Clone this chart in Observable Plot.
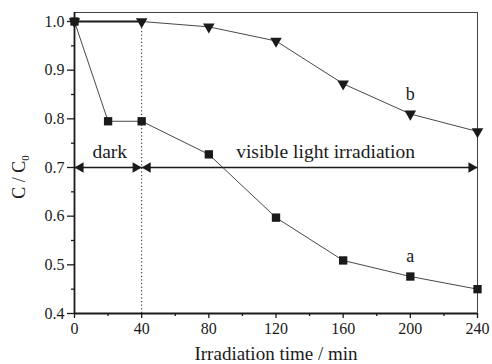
<!DOCTYPE html>
<html><head><meta charset="utf-8">
<script src="https://cdn.jsdelivr.net/npm/d3@7"></script>
<script src="https://cdn.jsdelivr.net/npm/@observablehq/plot@0.6"></script>
<style>body{margin:0;background:#fff;} svg{display:block;}</style>
</head><body><div id="chart"></div>
<script>
const time = [0, 20, 40, 80, 120, 160, 200, 240];
const seriesA = [1.0, 0.795, 0.795, 0.727, 0.597, 0.509, 0.476, 0.45];
const timeB = [0, 40, 80, 120, 160, 200, 240];
const seriesB = [1.0, 1.0, 0.989, 0.960, 0.872, 0.810, 0.774];
const xMajor = [0, 40, 80, 120, 160, 200, 240];
const xMinor = [20, 60, 100, 140, 180, 220];
const yMajor = [0.4, 0.5, 0.6, 0.7, 0.8, 0.9, 1.0];
const yMinor = [0.45, 0.55, 0.65, 0.75, 0.85, 0.95];
const periods = [{x1: 0, x2: 40, label: "dark", lx: 21}, {x1: 40, x2: 240, label: "visible light irradiation", lx: 149.5}];
const arrowLevel = 0.7;
const periodLabelY = 0.733;
const darkEnd = 40;
const seriesLabels = [{x: 200, y: 0.517, t: "a"}, {x: 200, y: 0.850, t: "b"}];

const A = time.map((t, i) => ({t, v: seriesA[i]}));
const B = timeB.map((t, i) => ({t, v: seriesB[i]}));
const heads = periods.flatMap(p => [{x: p.x1, dir: -1}, {x: p.x2, dir: 1}]);
const ink = "#1a1a1a";
const serif = "'Liberation Serif', 'Times New Roman', serif";

const plot = Plot.plot({
  width: 492, height: 364,
  marginLeft: 74, marginRight: 15, marginTop: 12, marginBottom: 51,
  style: {fontFamily: serif, fontSize: "16px", color: ink, background: "#fff"},
  x: {domain: [0, 240]},
  y: {domain: [0.4, 1.0185]},
  marks: [
    Plot.frame({stroke: "#444", strokeWidth: 1}),
    Plot.ruleX([40], {y1: 0.4, y2: 1.0, stroke: ink, strokeWidth: 1, strokeDasharray: "1.2,2.4"}),
    Plot.axisX({ticks: xMinor, tickSize: 3, text: null, stroke: ink, strokeWidth: 1.3}),
    Plot.axisX({ticks: xMajor, tickSize: 5, tickPadding: 4, tickFormat: d3.format("d"), label: null, stroke: ink, strokeWidth: 1.3, fontSize: 16}),
    Plot.axisY({ticks: yMinor, tickSize: 3, text: null, stroke: ink, strokeWidth: 1.3}),
    Plot.axisY({ticks: yMajor, tickSize: 7, tickPadding: 3, tickFormat: d3.format(".1f"), label: null, stroke: ink, strokeWidth: 1.3, fontSize: 16}),
    Plot.ruleX([0], {stroke: ink, strokeWidth: 1.8}),
    Plot.ruleY([0.4], {stroke: ink, strokeWidth: 1.8}),
    // period arrows
    Plot.link(periods, {x1: "x1", x2: "x2", y1: () => arrowLevel, y2: () => arrowLevel, stroke: ink, strokeWidth: 1.3}),
    Plot.dot(heads.filter(h => h.dir > 0), {x: "x", y: () => arrowLevel, symbol: "triangle", r: 3.9, fill: ink, stroke: "none", rotate: 90, dx: -6}),
    Plot.dot(heads.filter(h => h.dir < 0), {x: "x", y: () => arrowLevel, symbol: "triangle", r: 3.9, fill: ink, stroke: "none", rotate: -90, dx: 6}),
    Plot.text(periods, {x: "lx", y: () => periodLabelY, text: "label", fontSize: 19.5, fill: ink}),
    // series b
    Plot.line(B, {x: "t", y: "v", stroke: "#333", strokeWidth: 0.9}),
    Plot.line(B.filter(d => d.t <= darkEnd), {x: "t", y: "v", stroke: ink, strokeWidth: 2}),
    Plot.dot(B, {x: "t", y: "v", symbol: "triangle", rotate: 180, r: 4.3, fill: ink, stroke: "none"}),
    // series a
    Plot.line(A, {x: "t", y: "v", stroke: "#333", strokeWidth: 0.9}),
    Plot.dot(A, {x: "t", y: "v", symbol: "square", r: 4.7, fill: ink, stroke: "none"}),
    Plot.text(seriesLabels, {x: "x", y: "y", text: "t", fontSize: 18, fill: ink})
  ]
});

const svg = d3.select(plot);
svg.append("text")
  .attr("x", 276).attr("y", 360)
  .attr("text-anchor", "middle")
  .attr("font-family", serif).attr("font-size", 19).attr("fill", ink)
  .text("Irradiation time / min");
const yt = svg.append("text")
  .attr("transform", "translate(25,177) rotate(-90)")
  .attr("text-anchor", "middle")
  .attr("font-family", serif).attr("font-size", 18).attr("fill", ink);
yt.append("tspan").text("C / C");
yt.append("tspan").attr("font-size", 11).attr("dy", 4).text("0");
document.getElementById("chart").appendChild(plot);
</script></body></html>
